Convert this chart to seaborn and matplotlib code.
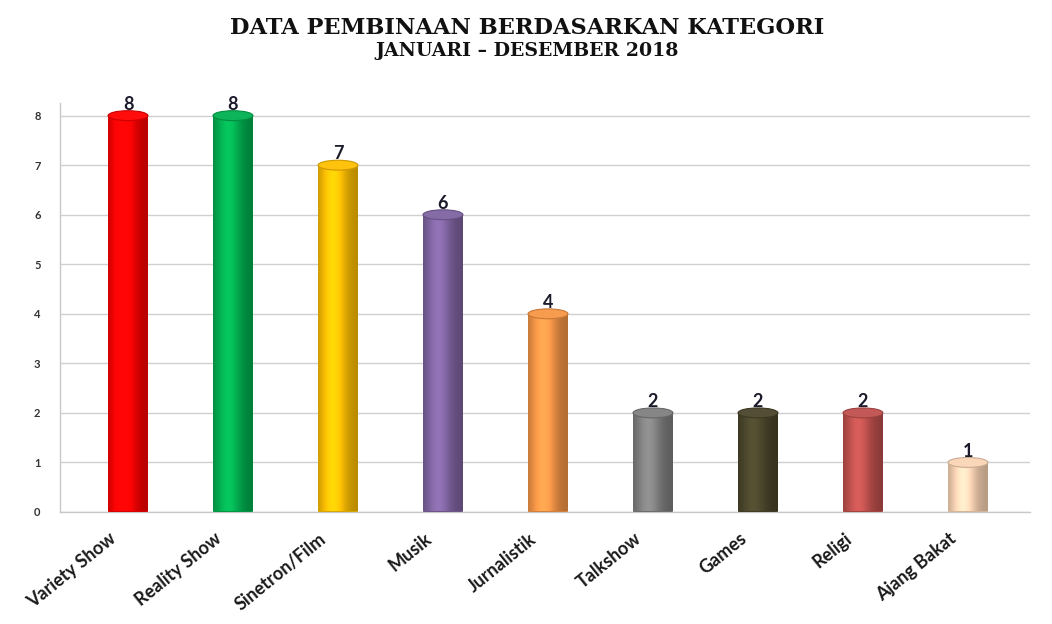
import matplotlib
matplotlib.use("Agg")
import matplotlib.pyplot as plt
import matplotlib.transforms as mtransforms
from matplotlib.patches import Ellipse
import matplotlib.colors as mcolors
import numpy as np
import seaborn as sns
import pandas as pd

categories = ["Variety Show", "Reality Show", "Sinetron/Film", "Musik", "Jurnalistik",
              "Talkshow", "Games", "Religi", "Ajang Bakat"]
values = [8, 8, 7, 6, 4, 2, 2, 2, 1]
colors = ["#ff0000", "#00b050", "#ffc000", "#8064a2", "#f79646",
          "#808080", "#4a452a", "#c0504d", "#fbd5b5"]
yticks = [0, 1, 2, 3, 4, 5, 6, 7, 8]

sns.set_theme(style="white")
plt.rcParams["font.family"] = ["Lato", "DejaVu Sans"]

df = pd.DataFrame({"kategori": categories, "jumlah": values})

fig = plt.figure(figsize=(10.52, 6.24), dpi=100)
ax = fig.add_axes([0.057, 0.1795, 0.922, 0.655])

sns.barplot(data=df, x="kategori", y="jumlah", hue="kategori", palette=colors,
            legend=False, width=0.38, ax=ax, saturation=1,
            linewidth=0, zorder=3)

ax.set_xlim(-0.648, 8.59)
ax.set_ylim(0, 8.25)

# cylinder-like shading derived from the bar patches drawn by seaborn
ell_h = 0.2
shade = np.linspace(0, 1, 64)
factor = 0.72 + 0.38 * np.exp(-((shade - 0.38) / 0.32) ** 2)
for patch in list(ax.patches):
    x0, y0 = patch.get_x(), patch.get_y()
    w, h = patch.get_width(), patch.get_height()
    base = np.array(mcolors.to_rgb(patch.get_facecolor()))
    grad = np.clip(base[None, :] * factor[:, None] + 0.06 * (factor[:, None] - 0.72), 0, 1)
    img = grad[None, :, :]
    ax.imshow(img, extent=[x0, x0 + w, y0 + 0.02, y0 + h], aspect="auto",
              interpolation="bilinear", zorder=3.2)
    patch.set_visible(False)
    bottom = Ellipse((x0 + w / 2, y0 + 0.02), w, ell_h,
                     facecolor=tuple(np.clip(base * 0.85, 0, 1)), edgecolor="none", zorder=3.1)
    ax.add_patch(bottom)
    top = Ellipse((x0 + w / 2, y0 + h), w, ell_h,
                  facecolor=tuple(np.clip(base * 0.95 + 0.05, 0, 1)),
                  edgecolor=tuple(np.clip(base * 0.8, 0, 1)), linewidth=0.8, zorder=3.3)
    ax.add_patch(top)
ax.set_xlim(-0.648, 8.59)
ax.set_ylim(0, 8.25)

ax.set_yticks(yticks)
ax.set_yticklabels([str(t) for t in yticks], fontsize=8, fontweight="bold", color="#333333")
ax.yaxis.grid(True, color="#d0d0d0", linewidth=1.0, zorder=0)
ax.set_axisbelow(True)
ax.tick_params(axis="y", length=0, pad=14)
ax.tick_params(axis="x", length=0, pad=13)
offset = mtransforms.ScaledTranslation(-19 / 100, 0, fig.dpi_scale_trans)
for lbl in ax.get_xticklabels():
    lbl.set_rotation(39)
    lbl.set_ha("right")
    lbl.set_rotation_mode("anchor")
    lbl.set_fontsize(13)
    lbl.set_fontweight("bold")
    lbl.set_color("#1a1a1a")
    lbl.set_transform(lbl.get_transform() + offset)
ax.set_xlabel("")
ax.set_ylabel("")

for s in ["top", "right"]:
    ax.spines[s].set_visible(False)
for s in ["left", "bottom"]:
    ax.spines[s].set_color("#c8c8c8")
    ax.spines[s].set_linewidth(1.0)

for i, v in enumerate(values):
    ax.annotate(str(v), (i, v), xytext=(0, 2), textcoords="offset points",
                ha="center", va="bottom", fontsize=13, fontweight="bold",
                color="#1a1a2a", zorder=5)

fig.text(0.501, 0.955, "DATA PEMBINAAN BERDASARKAN KATEGORI", ha="center", va="center",
         fontsize=16.2, fontweight="bold", family=["DejaVu Serif"],
         color="#111111")
fig.text(0.501, 0.918, "JANUARI \u2013 DESEMBER 2018", ha="center", va="center",
         fontsize=13.6, fontweight="bold", family=["DejaVu Serif"],
         color="#111111")

fig.savefig("out.png", dpi=100, facecolor="white")
